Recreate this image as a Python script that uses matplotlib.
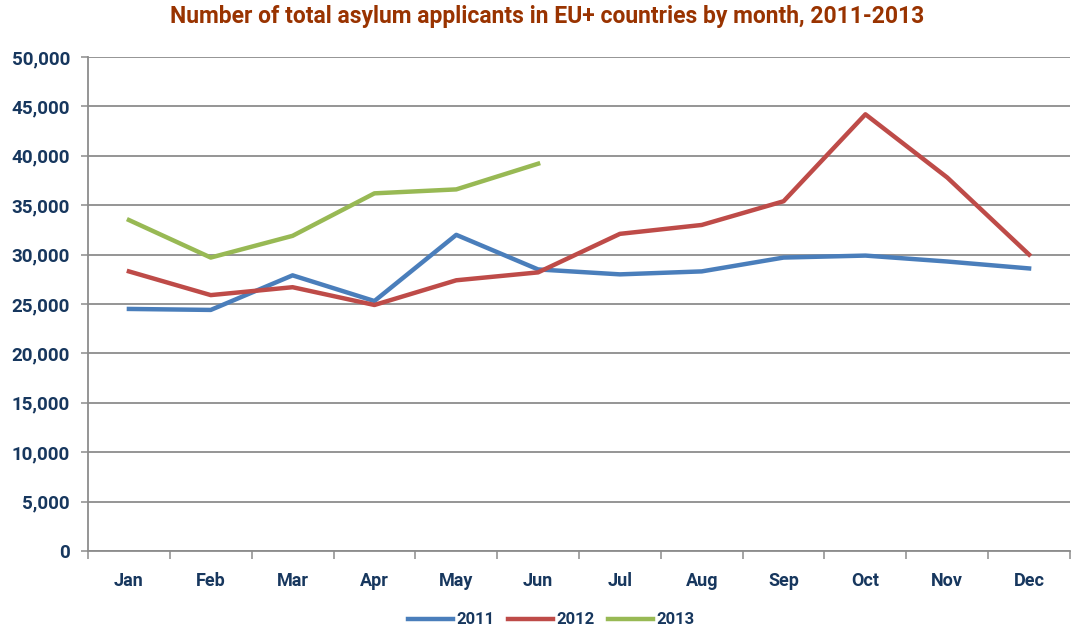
import matplotlib
matplotlib.use("Agg")
import matplotlib.pyplot as plt
from matplotlib.ticker import FuncFormatter, FixedLocator
from matplotlib import font_manager

months = ["Jan", "Feb", "Mar", "Apr", "May", "Jun",
          "Jul", "Aug", "Sep", "Oct", "Nov", "Dec"]
apps_2011 = [24500, 24400, 27900, 25300, 32000, 28500,
             28000, 28300, 29700, 29900, 29300, 28600]
apps_2012 = [28300, 25900, 26700, 24900, 27400, 28200,
             32100, 33000, 35400, 44200, 37800, 30000]
apps_2013 = [33500, 29700, 31900, 36200, 36600, 39200]
y_ticks = list(range(0, 50001, 5000))

installed = {f.name for f in font_manager.fontManager.ttflist}
family = ["Liberation Sans Narrow", "DejaVu Sans"] if "Liberation Sans Narrow" in installed \
    else ["Roboto", "DejaVu Sans"]
plt.rcParams["font.family"] = family

navy = "#17375E"
grid_gray = "#8C8C8C"

fig = plt.figure(figsize=(10.72, 6.35), dpi=100)
ax = fig.add_axes([88 / 1072, 1 - 551 / 635, 982 / 1072, (551 - 57) / 635])

x = list(range(len(months)))
ax.plot(x, apps_2011, color="#4A7EBB", lw=3.2, label="2011", solid_joinstyle="round")
ax.plot(x, apps_2012, color="#BE4B48", lw=3.2, label="2012", solid_joinstyle="round")
ax.plot(x[:len(apps_2013)], apps_2013, color="#98B954", lw=3.2, label="2013",
        solid_joinstyle="round")

ax.set_xlim(-0.5, 11.5)
ax.set_ylim(0, 50000)
ax.set_yticks(y_ticks)
ax.yaxis.set_major_formatter(FuncFormatter(lambda v, p: f"{int(v):,}"))
ax.yaxis.grid(True, color=grid_gray, lw=1.3)
ax.set_axisbelow(True)

ax.xaxis.set_major_locator(FixedLocator([i - 0.5 for i in range(13)]))
ax.xaxis.set_major_formatter(FuncFormatter(lambda v, p: ""))
ax.xaxis.set_minor_locator(FixedLocator(x))
ax.set_xticklabels(months, minor=True)
ax.tick_params(axis="x", which="major", length=6, width=1.1, color=grid_gray, direction="out")
ax.tick_params(axis="x", which="minor", length=0, pad=15)
ax.tick_params(axis="y", length=5, width=1.1, color=grid_gray, direction="out", pad=8)

for lbl in ax.get_yticklabels():
    lbl.set_fontsize(13.5)
    lbl.set_fontweight("bold")
    lbl.set_color(navy)
for lbl in ax.get_xticklabels(minor=True):
    lbl.set_fontsize(13)
    lbl.set_fontweight("bold")
    lbl.set_color(navy)

for side in ["top", "right"]:
    ax.spines[side].set_visible(False)
for side in ["left", "bottom"]:
    ax.spines[side].set_color(grid_gray)
    ax.spines[side].set_linewidth(1.3)

fig.text(0.51, 1 - 17 / 635, "Number of total asylum applicants in EU+ countries by month, 2011-2013",
         ha="center", va="center", fontsize=16.5, fontweight="bold", color="#993300")

leg = fig.legend(loc="center", bbox_to_anchor=(0.514, 1 - 620 / 635), ncol=3, frameon=False,
                 handlelength=2.7, handletextpad=0.2, columnspacing=0.8,
                 prop={"size": 12, "weight": "bold"})
for t in leg.get_texts():
    t.set_color(navy)

fig.savefig("out.png", dpi=100)
